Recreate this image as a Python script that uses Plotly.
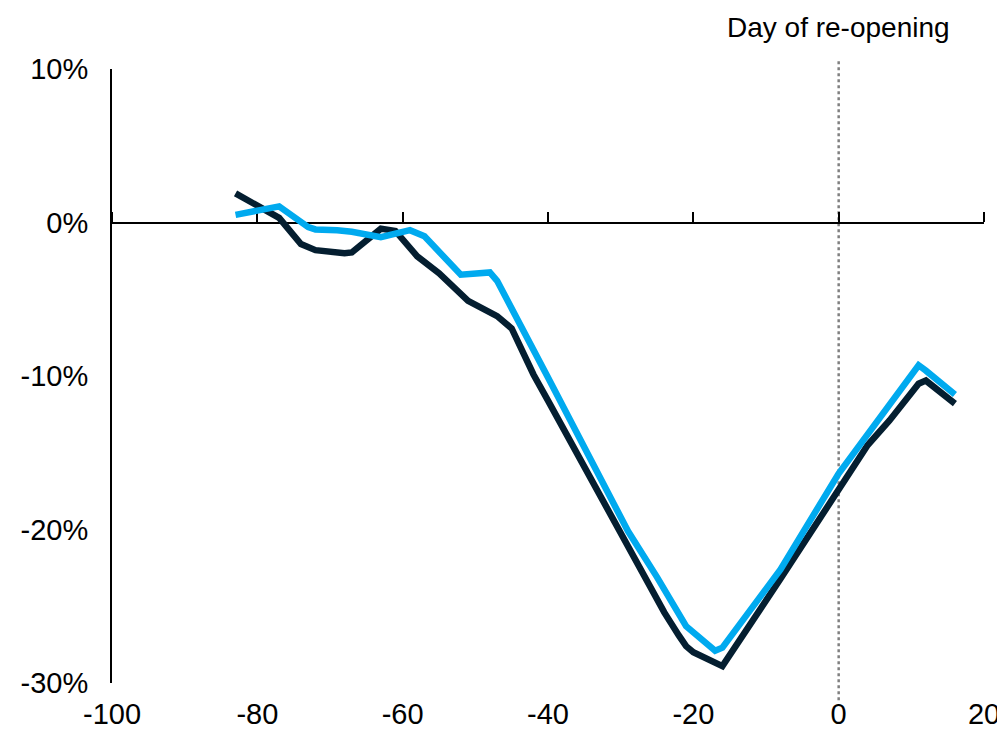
import plotly.graph_objects as go

# Days relative to re-opening and % change
dark_x = [-83, -77, -74, -72, -68, -67, -63, -61, -58, -55, -51, -47, -45, -42, -40, -37,
          -32, -29, -24, -22, -21, -20, -16, -8, 0, 4, 7, 11, 12, 16]
dark_y = [1.9, 0.3, -1.4, -1.8, -2.0, -1.95, -0.4, -0.55, -2.2, -3.3, -5.1, -6.1, -6.9, -9.9,
          -11.6, -14.2, -18.6, -21.2, -25.4, -26.9, -27.6, -28.0, -28.9,
          -23.2, -17.45, -14.5, -12.9, -10.5, -10.3, -11.8]

blue_x = [-83, -77, -73, -72, -69, -67, -63, -59, -57, -52, -48, -47, -40, -32, -29, -25,
          -21, -17, -16, -8, 0, 11, 12, 16]
blue_y = [0.5, 1.05, -0.3, -0.45, -0.5, -0.6, -0.95, -0.5, -0.9, -3.4, -3.25, -3.8, -10.1,
          -17.5, -20.1, -23.1, -26.3, -27.9, -27.7, -22.6, -16.35, -9.3, -9.65, -11.2]

x_ticks = [-100, -80, -60, -40, -20, 0, 20]
x_ticktext = ["-100", "-80", "-60", "-40", "-20", "0", "20"]
y_ticks = [-30, -20, -10, 0, 10]
y_ticktext = ["-30%", "-20%", "-10%", "0%", "10%"]
annotation_text = "Day of re-opening"

DARK = "#041e30"
BLUE = "#00aaef"
FONT = "Arial"

fig = go.Figure()
fig.add_trace(go.Scatter(x=dark_x, y=dark_y, mode="lines",
                         line=dict(color=DARK, width=6.5), showlegend=False))
fig.add_trace(go.Scatter(x=blue_x, y=blue_y, mode="lines", xaxis="x2",
                         line=dict(color=BLUE, width=6.5), showlegend=False))

fig.add_shape(type="line", x0=0, x1=0, xref="x", yref="paper", y0=-0.028, y1=1.013,
              line=dict(color="#808080", width=2.5, dash="dot"), layer="below")

fig.add_annotation(x=0, xref="x", y=1.068, yref="paper", text=annotation_text,
                   showarrow=False, xanchor="center", yanchor="middle",
                   font=dict(family=FONT, size=28, color="black"))

fig.update_layout(
    width=997, height=722,
    margin=dict(l=104, r=21, t=61, b=47),
    paper_bgcolor="white", plot_bgcolor="white",
    font=dict(family=FONT, color="black"),
    xaxis=dict(range=[-100, 20], tickvals=x_ticks, ticktext=x_ticktext, showline=False,
               showgrid=False, zeroline=False, ticks="", tickfont=dict(size=29),
               ticklabelstandoff=11, automargin=False),
    xaxis2=dict(overlaying="x", matches="x", anchor="free", position=0.75, side="top",
                range=[-100, 20], tickvals=x_ticks, showticklabels=False, showgrid=False,
                zeroline=False, showline=True, linecolor="black", linewidth=2,
                ticks="outside", ticklen=10, tickwidth=2, tickcolor="black",
                layer="below traces"),
    yaxis=dict(range=[-30, 10], tickvals=y_ticks, ticktext=y_ticktext, showline=True,
               linecolor="black", linewidth=2, showgrid=False, zeroline=False,
               ticks="", tickfont=dict(size=29), ticklabelstandoff=16,
               automargin=False),
)

fig.write_html("out.html")
